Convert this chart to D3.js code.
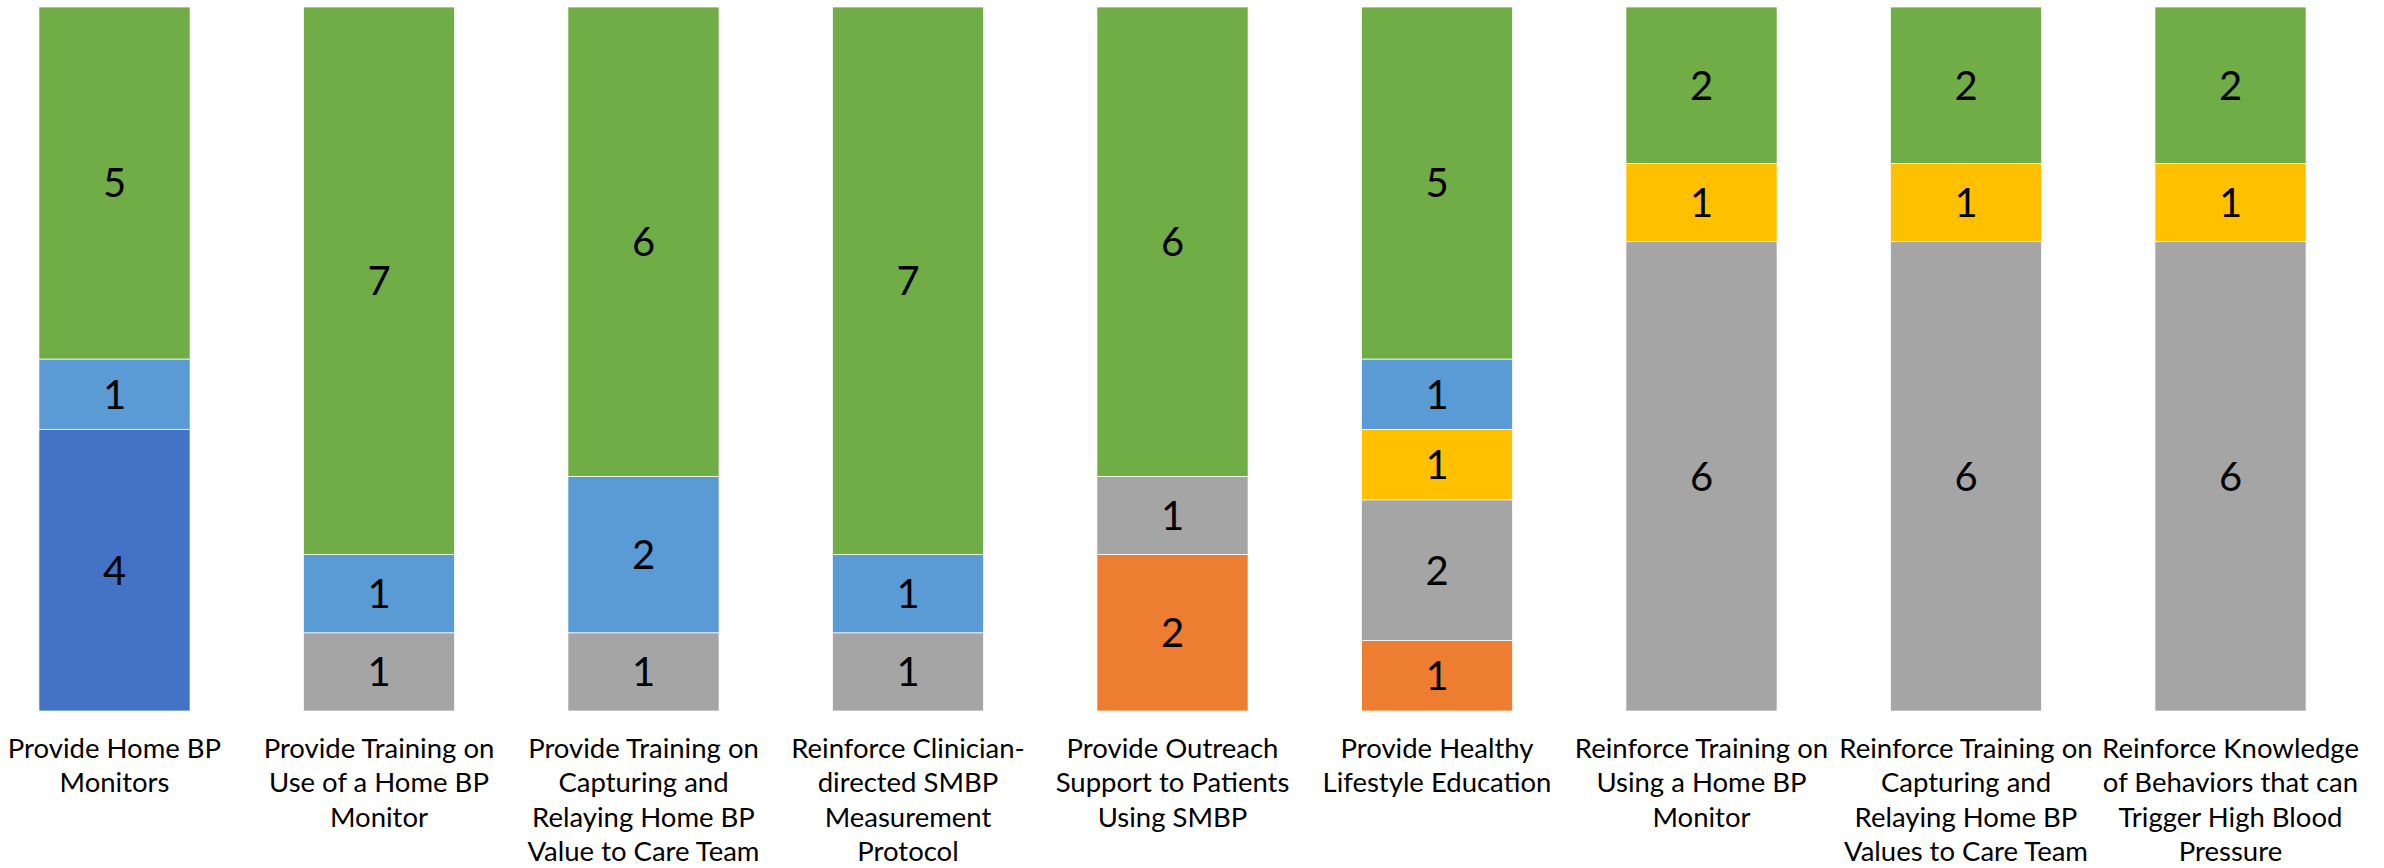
<!DOCTYPE html>
<html>
<head>
<meta charset="utf-8">
<script src="https://cdn.jsdelivr.net/npm/d3@7"></script>
<style>
  html, body { margin: 0; padding: 0; background: #fff; }
  svg { display: block; }
</style>
</head>
<body>
<svg id="chart" width="2384" height="868"></svg>
<script>
const categories = [
  "Provide Home BP Monitors",
  "Provide Training on Use of a Home BP Monitor",
  "Provide Training on Capturing and Relaying Home BP Value to Care Team",
  "Reinforce Clinician-directed SMBP Measurement Protocol",
  "Provide Outreach Support to Patients Using SMBP",
  "Provide Healthy Lifestyle Education",
  "Reinforce Training on Using a Home BP Monitor",
  "Reinforce Training on Capturing and Relaying Home BP Values to Care Team",
  "Reinforce Knowledge of Behaviors that can Trigger High Blood Pressure"
];
const categoryLines = [
  ["Provide Home BP", "Monitors"],
  ["Provide Training on", "Use of a Home BP", "Monitor"],
  ["Provide Training on", "Capturing and", "Relaying Home BP", "Value to Care Team"],
  ["Reinforce Clinician-", "directed SMBP", "Measurement", "Protocol"],
  ["Provide Outreach", "Support to Patients", "Using SMBP"],
  ["Provide Healthy", "Lifestyle Education"],
  ["Reinforce Training on", "Using a Home BP", "Monitor"],
  ["Reinforce Training on", "Capturing and", "Relaying Home BP", "Values to Care Team"],
  ["Reinforce Knowledge", "of Behaviors that can", "Trigger High Blood", "Pressure"]
];
const seriesNames = ["Series 1", "Series 2", "Series 3", "Series 4", "Series 5", "Series 6"];
const series1 = [4, 0, 0, 0, 0, 0, 0, 0, 0];
const series2 = [0, 0, 0, 0, 2, 1, 0, 0, 0];
const series3 = [0, 1, 1, 1, 1, 2, 6, 6, 6];
const series4 = [0, 0, 0, 0, 0, 1, 1, 1, 1];
const series5 = [1, 1, 2, 1, 0, 1, 0, 0, 0];
const series6 = [5, 7, 6, 7, 6, 5, 2, 2, 2];
const seriesColors = ["#4472C4", "#ED7D31", "#A5A5A5", "#FFC000", "#5B9BD5", "#70AD47"];

const allSeries = [series1, series2, series3, series4, series5, series6];
const table = categories.map((c, i) => {
  const row = { category: c };
  seriesNames.forEach((s, k) => row[s] = allSeries[k][i]);
  return row;
});

const svg = d3.select("#chart");
const plotTop = 7, plotBottom = 711;
const gap = 0.75;  // gap width 75%
const pIn = gap / (1 + gap);
const x = d3.scaleBand()
  .domain(categories)
  .range([-17.75, 2362.75])
  .paddingInner(pIn)
  .paddingOuter(pIn / 2);
const y = d3.scaleLinear().domain([0, 1]).range([plotBottom, plotTop]);
const color = d3.scaleOrdinal().domain(seriesNames).range(seriesColors);

const stack = d3.stack().keys(seriesNames).offset(d3.stackOffsetExpand);
const stacked = stack(table);

const layers = svg.append("g").selectAll("g.layer")
  .data(stacked).join("g")
  .attr("class", "layer")
  .attr("fill", d => color(d.key));

layers.selectAll("rect")
  .data(d => d.map(v => ({ v, key: d.key })))
  .join("rect")
  .filter(d => d.v[1] - d.v[0] > 0)
  .attr("x", d => x(d.v.data.category))
  .attr("width", x.bandwidth())
  .attr("y", d => y(d.v[1]))
  .attr("height", d => y(d.v[0]) - y(d.v[1]))
  .attr("stroke", "#ffffff")
  .attr("stroke-width", 0.75);

// data labels
const labelG = svg.append("g")
  .attr("font-family", "Lato, 'Noto Sans', sans-serif")
  .attr("font-size", 40)
  .attr("fill", "#000")
  .attr("text-anchor", "middle");
stacked.forEach(layer => {
  layer.forEach(v => {
    const val = v.data[layer.key];
    if (val > 0) {
      labelG.append("text")
        .attr("x", x(v.data.category) + x.bandwidth() / 2)
        .attr("y", (y(v[0]) + y(v[1])) / 2)
        .attr("dy", "0.36em")
        .text(val);
    }
  });
});

// category axis labels
const axisG = svg.append("g")
  .attr("font-family", "Lato, 'Noto Sans', sans-serif")
  .attr("font-size", 27.5)
  .attr("fill", "#000")
  .attr("text-anchor", "middle");
const firstBaseline = 758, lineStep = 34.3;
categories.forEach((c, i) => {
  const t = axisG.append("text")
    .attr("x", x(c) + x.bandwidth() / 2)
    .attr("y", firstBaseline);
  categoryLines[i].forEach((line, j) => {
    t.append("tspan")
      .attr("x", x(c) + x.bandwidth() / 2)
      .attr("y", firstBaseline + j * lineStep)
      .text(line);
  });
});
</script>
</body>
</html>
